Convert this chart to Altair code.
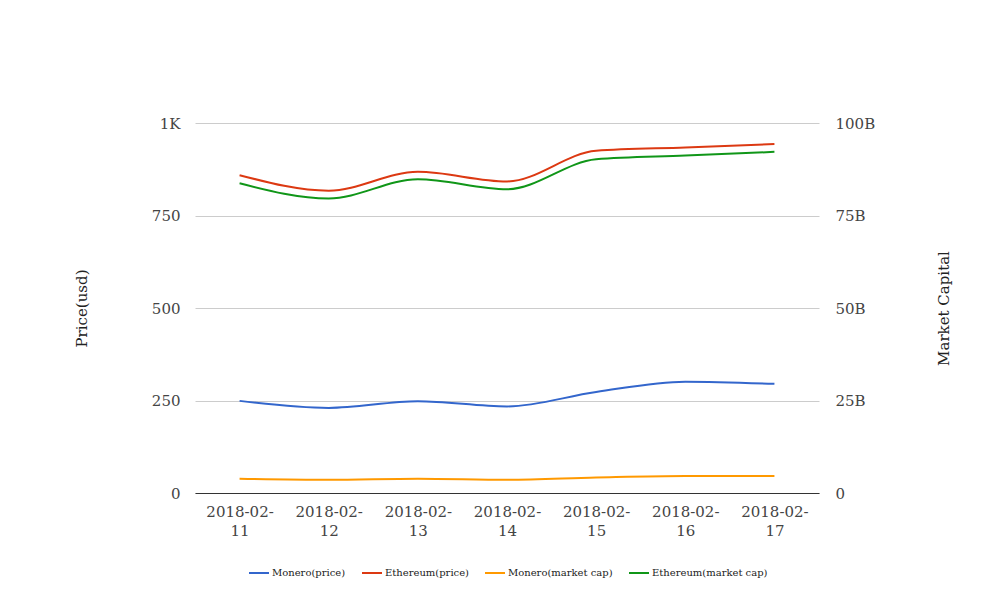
import altair as alt
import pandas as pd

dates = ["2018-02-11", "2018-02-12", "2018-02-13", "2018-02-14",
         "2018-02-15", "2018-02-16", "2018-02-17"]
monero_price = [249, 230, 248, 234, 273, 301, 295]
eth_price = [859, 817, 868, 842, 925, 934, 943]
monero_cap_b = [3.88, 3.6, 3.88, 3.6, 4.2, 4.6, 4.6]
eth_cap_b = [83.7, 79.6, 84.8, 82.1, 90.2, 91.2, 92.2]

series_names = ["Monero(price)", "Ethereum(price)", "Monero(market cap)", "Ethereum(market cap)"]
colors = ["#3366cc", "#dc3912", "#ff9900", "#109618"]

rows = []
for i, d in enumerate(dates):
    rows.append({"date": d, "series": series_names[0], "value": monero_price[i]})
    rows.append({"date": d, "series": series_names[1], "value": eth_price[i]})
    rows.append({"date": d, "series": series_names[2], "value": monero_cap_b[i] * 1e9})
    rows.append({"date": d, "series": series_names[3], "value": eth_cap_b[i] * 1e9})
df = pd.DataFrame(rows)

FONT = "DejaVu Serif"

x_enc = alt.X(
    "date:N",
    sort=dates,
    scale=alt.Scale(type="point", padding=0.5),
    axis=alt.Axis(
        title=None, labelAngle=0, ticks=False, grid=False,
        domainColor="#333333", labelPadding=11, labelFontSize=15,
        labelLineHeight=19,
        labelExpr="[slice(datum.label, 0, 8), slice(datum.label, 8)]",
    ),
)

color_enc = alt.Color(
    "series:N",
    scale=alt.Scale(domain=series_names, range=colors),
    sort=series_names,
    legend=alt.Legend(
        title=None, orient="none", direction="horizontal",
        legendX=53, legendY=439,
        symbolType="stroke", symbolSize=400, symbolStrokeWidth=2,
        labelFontSize=10, labelFont=FONT, labelColor="#222222",
        columnPadding=12, labelOffset=2,
    ),
)

base = alt.Chart(df)

price = base.transform_filter(
    alt.FieldOneOfPredicate(field="series", oneOf=series_names[:2])
).mark_line(interpolate="monotone", strokeWidth=2).encode(
    x=x_enc,
    y=alt.Y(
        "value:Q",
        scale=alt.Scale(domain=[0, 1000]),
        axis=alt.Axis(
            title="Price(usd)", values=[0, 250, 500, 750, 1000],
            labelExpr="datum.value >= 1000 ? '1K' : datum.label",
            ticks=False, domain=False, gridColor="#cccccc",
            labelPadding=15, titlePadding=62, labelFontSize=15, titleFontSize=15,
            titleFontWeight="normal",
        ),
    ),
    color=color_enc,
)

cap = base.transform_filter(
    alt.FieldOneOfPredicate(field="series", oneOf=series_names[2:])
).mark_line(interpolate="monotone", strokeWidth=2).encode(
    x=x_enc,
    y=alt.Y(
        "value:Q",
        scale=alt.Scale(domain=[0, 1e11]),
        axis=alt.Axis(
            title="Market Capital", orient="right", titleAngle=270,
            values=[0, 2.5e10, 5e10, 7.5e10, 1e11],
            labelExpr="datum.value == 0 ? '0' : (datum.value / 1e9) + 'B'",
            ticks=False, domain=False, grid=False,
            labelPadding=16, titlePadding=77, labelFontSize=15, titleFontSize=15,
            titleFontWeight="normal",
        ),
    ),
    color=color_enc,
)

chart = alt.layer(price, cap).resolve_scale(y="independent").properties(
    width=624, height=370,
    padding={"left": 66, "top": 108, "right": 5, "bottom": 5},
).configure(font=FONT).configure_axis(
    labelFont=FONT, titleFont=FONT, labelColor="#444444", titleColor="#222222",
).configure_view(stroke=None)

chart.save("out.html", embed_options={"renderer": "svg", "actions": False})
